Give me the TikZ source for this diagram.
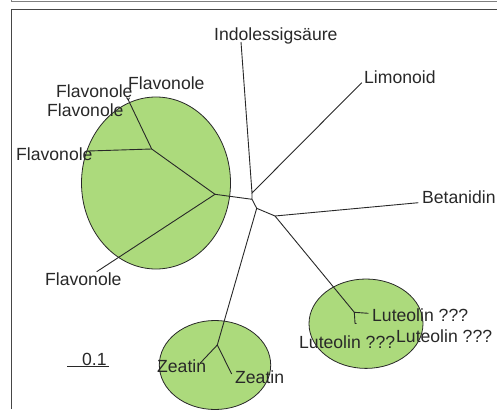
\documentclass[tikz,border=0pt]{standalone}
\usepackage{fontspec}
\setmainfont{Liberation Sans}
\definecolor{leafgreen}{RGB}{172,218,124}
\definecolor{txtgray}{RGB}{40,40,40}
\definecolor{framegray}{RGB}{70,70,70}
\begin{document}
\begin{tikzpicture}[x=1pt,y=-1pt,
  branch/.style={draw=txtgray,line width=0.9pt},
  clade/.style={draw=txtgray,fill=leafgreen,line width=0.8pt},
  lbl/.style={anchor=base west,inner sep=0pt,text=txtgray,font=\fontsize{17.6}{20}\selectfont},
  framel/.style={draw=framegray,line width=1pt}]
\useasboundingbox (0,0) rectangle (497,409);
% frames
\draw[framel,draw=gray] (11.5,0) -- (11.5,1.5) -- (497,1.5);
\draw[framel] (11.5,409) -- (11.5,9.5) -- (497,9.5);
% clades
\draw[clade] (156,183) ellipse [x radius=74.5, y radius=86];
\draw[clade] (215,365) ellipse [x radius=55.7, y radius=44.5];
\draw[clade] (366,323.7) ellipse [x radius=57, y radius=44.7];
% inner coordinates
\coordinate (J1) at (252,193);
\coordinate (J2) at (252,199.3);
\coordinate (J3) at (256.7,208.3);
\coordinate (J4) at (275,216);
\coordinate (F) at (215,194.3);
\coordinate (FN) at (151.7,149);
\coordinate (FT) at (128.3,100);
\coordinate (ZN) at (217.3,345);
\coordinate (LN) at (354.3,312.3);
% leaf ends
\coordinate (eIndo) at (241,42);
\coordinate (eLimo) at (361.7,82.7);
\coordinate (eBeta) at (418.3,202.7);
\coordinate (eF4) at (88.3,151);
\coordinate (eF5) at (96.7,271.7);
\coordinate (eFa) at (126.5,97.5);
\coordinate (eFb) at (129.5,97.8);
\coordinate (eZ1) at (200,363.3);
\coordinate (eZ2) at (231.7,374);
\coordinate (eL1) at (368.3,313.3);
\coordinate (eL2) at (355,323.3);
\coordinate (eL3) at (356.5,323.5);
% tree
\draw[branch] (eIndo) -- (J1) -- (eLimo);
\draw[branch] (J1) -- (J2) -- (F);
\draw[branch] (J2) -- (J3) -- (ZN);
\draw[branch] (J3) -- (J4) -- (eBeta);
\draw[branch] (J4) -- (LN);
\draw[branch] (F) -- (FN) -- (eF4);
\draw[branch] (FN) -- (FT) -- (eFa);
\draw[branch] (FT) -- (eFb);
\draw[branch] (F) -- (eF5);
\draw[branch] (eZ1) -- (ZN) -- (eZ2);
\draw[branch] (eL1) -- (LN) -- (eL2) -- (eL3);
% labels
\node[lbl] (tIndo) at (214,40.5) {Indolessigsäure};
\node[lbl] (tLimo) at (364,83.5) {Limonoid};
\node[lbl] (tBeta) at (422,203) {Betanidin};
\node[lbl] (tF1) at (128,90) {Flavonole};
\node[lbl] (tF2) at (56,97) {Flavonole};
\node[lbl] (tF3) at (47,116) {Flavonole};
\node[lbl] (tF4) at (16,160) {Flavonole};
\node[lbl] (tF5) at (45,285) {Flavonole};
\node[lbl] (tZ1) at (157,372) {Zeatin};
\node[lbl] (tZ2) at (235,383) {Zeatin};
\node[lbl] (tL1) at (372,321.7) {Luteolin ???};
\node[lbl] (tL2) at (299,348) {Luteolin ???};
\node[lbl] (tL3) at (396,342.7) {Luteolin ???};
\node[lbl] (tScale) at (82,365) {0.1};
\coordinate (sA) at (67,366);
\coordinate (sB) at (109,366);
\draw[branch] (sA) -- (sB);
\end{tikzpicture}
\end{document}
